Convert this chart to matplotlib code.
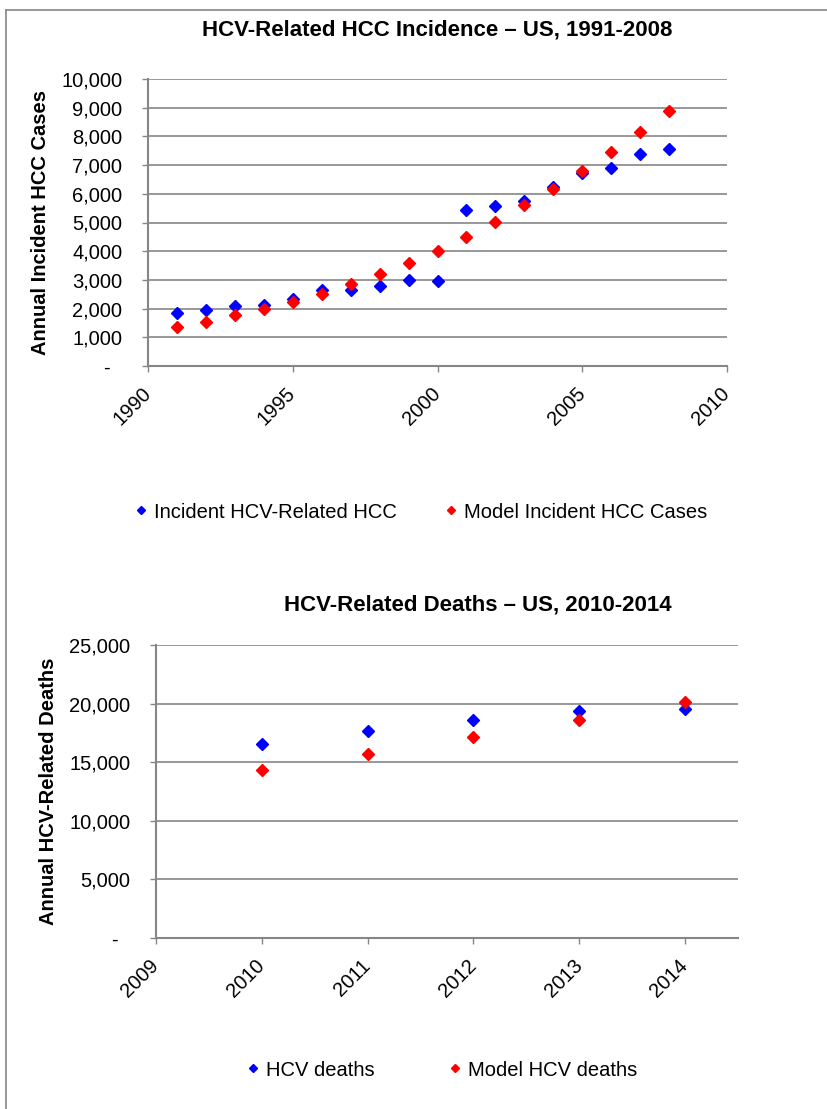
import matplotlib.pyplot as plt
from matplotlib.lines import Line2D
from matplotlib.ticker import FuncFormatter, MultipleLocator

plt.rcParams['font.family'] = ['Liberation Sans', 'DejaVu Sans']

# HCC incidence, 1991-2008
hcc_years = list(range(1991, 2009))
hcc_observed = [1840, 1950, 2100, 2120, 2330, 2640, 2660, 2790, 3010, 2960,
                5440, 5590, 5740, 6230, 6740, 6890, 7400, 7560]
hcc_model = [1370, 1550, 1760, 1980, 2220, 2510, 2850, 3200, 3590, 4010,
             4500, 5020, 5600, 6180, 6800, 7450, 8160, 8900]

# HCV deaths, 2010-2014
death_years = [2010, 2011, 2012, 2013, 2014]
deaths_observed = [16580, 17690, 18600, 19340, 19570]
deaths_model = [14330, 15720, 17150, 18630, 20170]

GRAY = '#868686'
BLUE = '#0000ff'
RED = '#ff0000'
FS = 14.5


def yfmt(v, pos):
    if v == 0:
        return '-  '
    return f'{v:,.0f}'


def style_axes(ax):
    for s in ['top', 'right']:
        ax.spines[s].set_visible(False)
    for s in ['left', 'bottom']:
        ax.spines[s].set_color(GRAY)
        ax.spines[s].set_linewidth(1.5)
    ax.grid(axis='y', color=GRAY, linewidth=1.2)
    ax.set_axisbelow(True)
    ax.tick_params(axis='y', direction='out', length=4.5, width=1, color=GRAY,
                   labelsize=FS, pad=14)
    ax.tick_params(axis='x', direction='out', length=4.5, width=1, color=GRAY,
                   labelsize=FS, pad=13)
    ax.yaxis.set_major_formatter(FuncFormatter(yfmt))
    for lab in ax.get_xticklabels():
        lab.set_rotation(45)
        lab.set_ha('right')
        lab.set_va('center')
        lab.set_rotation_mode('anchor')


fig = plt.figure(figsize=(8.27, 11.09), dpi=100)

# frame of the chart area
fig.add_artist(Line2D([6 / 827, 6 / 827], [0, 1 - 10 / 1109], color=GRAY, lw=1.2))
fig.add_artist(Line2D([6 / 827, 1], [1 - 10 / 1109, 1 - 10 / 1109], color=GRAY, lw=1.2))

# top chart
ax1 = fig.add_axes([148 / 827, 1 - 366 / 1109, 579 / 827, 287 / 1109])
ax1.plot(hcc_years, hcc_observed, 'D', color=BLUE, ms=6, label='Incident HCV-Related HCC')
ax1.plot(hcc_years, hcc_model, 'D', color=RED, ms=6, label='Model Incident HCC Cases')
ax1.set_xlim(1990, 2010)
ax1.set_ylim(0, 10000)
ax1.xaxis.set_major_locator(MultipleLocator(5))
ax1.yaxis.set_major_locator(MultipleLocator(1000))
style_axes(ax1)
ax1.set_ylabel('Annual Incident HCC Cases', fontsize=FS, fontweight='bold', labelpad=8)
fig.text(437 / 827, 1 - 30 / 1109, 'HCV-Related HCC Incidence \u2013 US, 1991-2008',
         ha='center', va='center', fontsize=16, fontweight='bold')
fig.legend(*ax1.get_legend_handles_labels(), loc='center left',
           bbox_to_anchor=(135 / 827, 1 - 512 / 1109), ncol=2, frameon=False,
           fontsize=FS, markerscale=0.7, handlelength=0.6, handletextpad=0.35,
           columnspacing=2.4, borderpad=0, borderaxespad=0)

# bottom chart
ax2 = fig.add_axes([156 / 827, 1 - 938 / 1109, 582 / 827, 293 / 1109])
ax2.plot(death_years, deaths_observed, 'D', color=BLUE, ms=6, label='HCV deaths')
ax2.plot(death_years, deaths_model, 'D', color=RED, ms=6, label='Model HCV deaths')
ax2.set_xlim(2009, 2014.5)
ax2.set_ylim(0, 25000)
ax2.set_xticks(range(2009, 2015))
ax2.yaxis.set_major_locator(MultipleLocator(5000))
style_axes(ax2)
ax2.set_ylabel('Annual HCV-Related Deaths', fontsize=FS, fontweight='bold', labelpad=8)
fig.text(478 / 827, 1 - 605 / 1109, 'HCV-Related Deaths \u2013 US, 2010-2014',
         ha='center', va='center', fontsize=16, fontweight='bold')
fig.legend(*ax2.get_legend_handles_labels(), loc='center left',
           bbox_to_anchor=(247 / 827, 1 - 1070 / 1109), ncol=2, frameon=False,
           fontsize=FS, markerscale=0.7, handlelength=0.6, handletextpad=0.35,
           columnspacing=3.7, borderpad=0, borderaxespad=0)

fig.savefig('out.png', dpi=100)
